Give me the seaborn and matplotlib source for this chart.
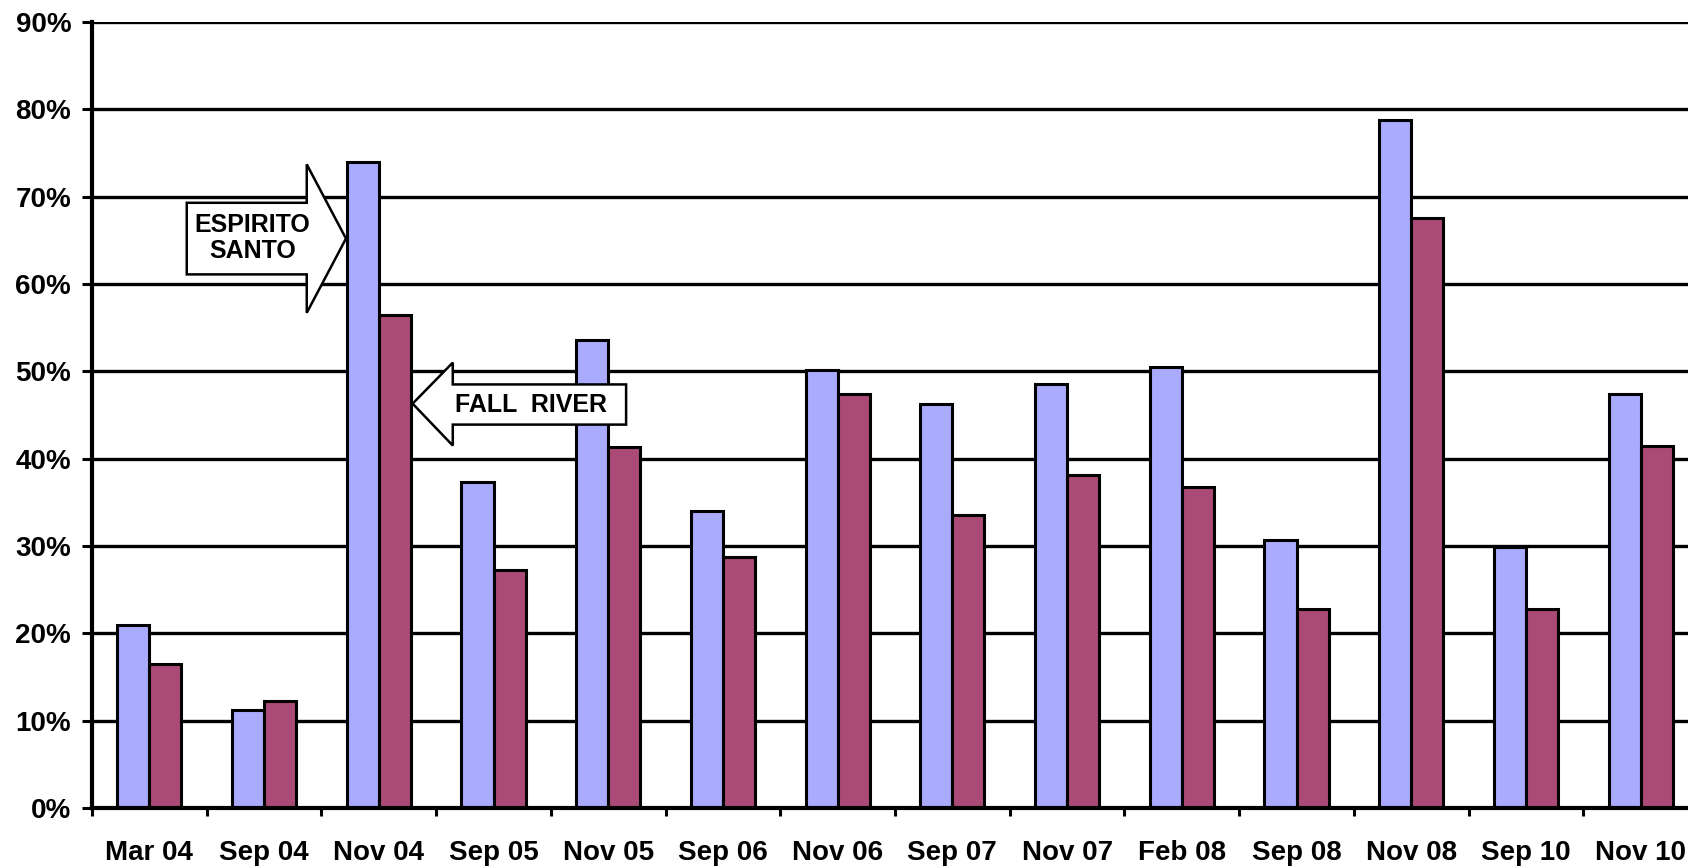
import matplotlib
matplotlib.use("Agg")
import matplotlib.pyplot as plt
from matplotlib.patches import Polygon
from matplotlib.ticker import FixedLocator, PercentFormatter
import seaborn as sns
import pandas as pd

dates = ["Mar 04", "Sep 04", "Nov 04", "Sep 05", "Nov 05", "Sep 06", "Nov 06",
         "Sep 07", "Nov 07", "Feb 08", "Sep 08", "Nov 08", "Sep 10", "Nov 10"]
espirito_santo = [21.0, 11.2, 74.0, 37.3, 53.6, 34.0, 50.2, 46.3, 48.5, 50.5, 30.7, 78.8, 29.9, 47.4]
fall_river = [16.5, 12.3, 56.4, 27.2, 41.3, 28.7, 47.4, 33.6, 38.1, 36.8, 22.8, 67.6, 22.8, 41.5]
sites = ["Espirito Santo", "Fall River"]
colors = ["#AAAAFF", "#AA4A76"]

df = pd.DataFrame({
    "date": dates * 2,
    "site": [sites[0]] * len(dates) + [sites[1]] * len(dates),
    "value": espirito_santo + fall_river,
})

sns.set_theme(style="white")
plt.rcParams["font.family"] = ["Liberation Sans", "DejaVu Sans"]
plt.rcParams["font.weight"] = "bold"
plt.rcParams["text.color"] = "black"
plt.rcParams["xtick.color"] = "black"
plt.rcParams["ytick.color"] = "black"

fig = plt.figure(figsize=(16.88, 8.66), dpi=100)
# axes run a little past the right edge, like the cropped original
ax = fig.add_axes([92 / 1688, 58 / 866, 1606 / 1688, 786 / 866])

sns.barplot(data=df, x="date", y="value", hue="site", order=dates, hue_order=sites,
            palette=colors, saturation=1, width=0.56, edgecolor="black",
            linewidth=2.2, legend=False, ax=ax)

ax.set_ylim(0, 90)
ax.set_xlim(-0.5, len(dates) - 0.5)
ax.set_yticks(range(0, 91, 10))
ax.yaxis.set_major_formatter(PercentFormatter(decimals=0))
ax.set_axisbelow(True)
ax.yaxis.grid(True, color="black", linewidth=2.4)
ax.set_xlabel("")
ax.set_ylabel("")

for side in ["top", "right"]:
    ax.spines[side].set_visible(False)
for side in ["left", "bottom"]:
    ax.spines[side].set_color("black")
    ax.spines[side].set_linewidth(3)

ax.tick_params(axis="y", which="major", left=True, length=7, width=2.2,
               color="black", labelcolor="black", pad=8, labelsize=20)
ax.tick_params(axis="x", which="major", bottom=False, length=0, pad=23,
               labelcolor="black", labelsize=20)
ax.xaxis.set_minor_locator(FixedLocator([i - 0.5 for i in range(len(dates) + 1)]))
ax.tick_params(axis="x", which="minor", bottom=True, length=6, width=2.2, color="black")
for lab in ax.get_xticklabels() + ax.get_yticklabels():
    lab.set_fontweight("bold")

# callout arrows (data coordinates)
es_arrow = [(0.326, 61.1), (0.326, 69.3), (1.372, 69.3), (1.372, 73.7),
            (1.714, 65.2), (1.372, 56.7), (1.372, 61.1)]
fr_arrow = [(4.156, 43.9), (4.156, 48.5), (2.645, 48.5), (2.645, 51.0),
            (2.295, 46.3), (2.645, 41.5), (2.645, 43.9)]
for pts in [es_arrow, fr_arrow]:
    ax.add_patch(Polygon(pts, closed=True, facecolor="white", edgecolor="black",
                         linewidth=1.8, zorder=5))
ax.text(0.90, 65.3, "ESPIRITO\nSANTO", ha="center", va="center", fontsize=18,
        fontweight="bold", color="black", linespacing=1.1, zorder=6)
ax.text(3.33, 46.1, "FALL  RIVER", ha="center", va="center", fontsize=18,
        fontweight="bold", color="black", zorder=6)

fig.savefig("out.png", dpi=100)
